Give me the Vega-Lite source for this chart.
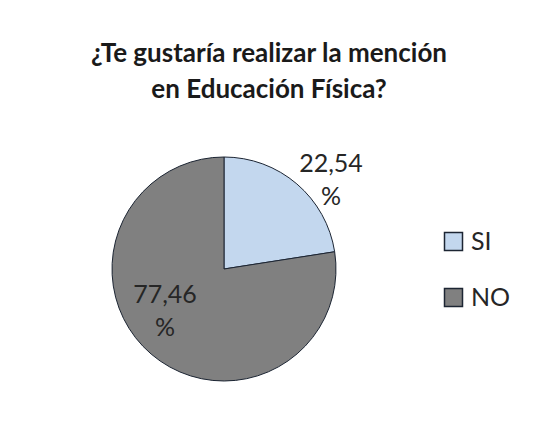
{
  "$schema": "https://vega.github.io/schema/vega-lite/v6.json",
  "width": 224,
  "height": 224,
  "autosize": {"type": "none"},
  "padding": {"left": 112, "top": 157, "right": 207, "bottom": 42},
  "background": "white",
  "config": {"view": {"stroke": null}},
  "title": {
    "text": ["¿Te gustaría realizar la mención", "en Educación Física?"],
    "font": "Lato",
    "fontSize": 26,
    "fontWeight": "bold",
    "color": "#1a1a1a",
    "anchor": "middle",
    "dx": 45,
    "offset": 49,
    "lineHeight": 36
  },
  "data": {
    "values": [
      {"respuesta": "SI", "porcentaje": 22.54, "etiqueta": ["22,54", "%"]},
      {"respuesta": "NO", "porcentaje": 77.46, "etiqueta": ["77,46", "%"]}
    ]
  },
  "layer": [
    {
      "mark": {"type": "arc", "stroke": "#1c2533", "strokeWidth": 1},
      "encoding": {
        "theta": {"field": "porcentaje", "type": "quantitative", "stack": true, "scale": {"domain": [0, 100]}},
        "order": {"field": "respuesta", "sort": "descending"},
        "color": {
          "field": "respuesta",
          "type": "nominal",
          "scale": {"domain": ["SI", "NO"], "range": ["#c3d7ee", "#808080"]},
          "legend": {
            "title": null,
            "orient": "none",
            "legendX": 329,
            "legendY": 72,
            "symbolType": "square",
            "symbolSize": 324,
            "symbolStrokeColor": "#1c2533",
            "symbolStrokeWidth": 1.5,
            "labelFont": "Lato",
            "labelFontSize": 25,
            "labelColor": "#262626",
            "labelOffset": 5,
            "rowPadding": 30
          }
        }
      }
    },
    {
      "transform": [{"filter": "datum.respuesta == 'SI'"}],
      "mark": {"type": "text", "font": "Lato", "fontSize": 25, "color": "#262626", "align": "center", "baseline": "middle", "lineHeight": 33, "thetaOffset": -0.622},
      "encoding": {
        "theta": {"field": "porcentaje", "type": "quantitative", "stack": null, "scale": {"domain": [0, 100]}},
        "radius": {"value": 150},
        "text": {"field": "etiqueta"}
      }
    },
    {
      "transform": [{"filter": "datum.respuesta == 'NO'"}],
      "mark": {"type": "text", "font": "Lato", "fontSize": 25, "color": "#262626", "align": "center", "baseline": "middle", "lineHeight": 33, "thetaOffset": -0.57},
      "encoding": {
        "theta": {"field": "porcentaje", "type": "quantitative", "stack": null, "scale": {"domain": [0, 100]}},
        "radius": {"value": 64.5},
        "text": {"field": "etiqueta"}
      }
    }
  ]
}
